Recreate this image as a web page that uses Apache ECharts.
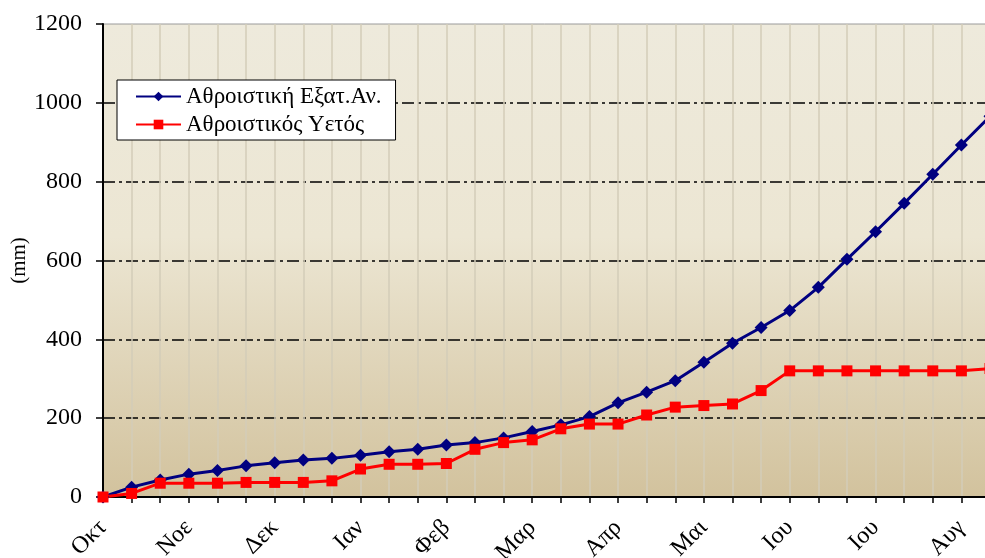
<!DOCTYPE html>
<html>
<head>
<meta charset="utf-8">
<script src="https://cdn.jsdelivr.net/npm/echarts@6/dist/echarts.min.js"></script>
<style>
    html, body { margin: 0; padding: 0; background: #fff; }
    #chart-box { width: 985px; height: 558px; }
</style>
</head>
<body>
<div id="chart-box"></div>
<script>
// δεκαήμερα (3 ανά μήνα), φαίνονται 32 σημεία
var categories = [
    'Οκτ', 'Οκτ', 'Οκτ', 'Νοε', 'Νοε', 'Νοε', 'Δεκ', 'Δεκ', 'Δεκ',
    'Ιαν', 'Ιαν', 'Ιαν', 'Φεβ', 'Φεβ', 'Φεβ', 'Μαρ', 'Μαρ', 'Μαρ',
    'Απρ', 'Απρ', 'Απρ', 'Μαι', 'Μαι', 'Μαι', 'Ιου', 'Ιου', 'Ιου',
    'Ιου', 'Ιου', 'Ιου', 'Αυγ', 'Αυγ'
];
// Αθροιστική Εξατμισοδιαπνοή
var evapData = [
    0, 25, 43, 58, 67, 79, 87, 94, 98, 106, 115,
    121, 132, 138, 150, 166, 183, 204, 239, 266, 295,
    342, 390, 430, 473, 532, 603, 673, 745, 819, 893, 966
];
// Αθροιστικός Υετός
var rainData = [
    0, 9, 35, 35, 35, 37, 37, 37, 41, 71, 83,
    83, 85, 121, 138, 145, 173, 185, 185, 208, 228,
    232, 236, 270, 320, 320, 320, 320, 320, 320, 320, 326
];
var yTicks = [0, 200, 400, 600, 800, 1000, 1200];

var fontName = 'Liberation Serif';

var chartDom = document.getElementById('chart-box');
var myChart = echarts.init(chartDom);
var option;

option = {
    animation: false,
    backgroundColor: '#ffffff',
    textStyle: { fontFamily: fontName },
    grid: {
        left: 103,
        top: 24,
        bottom: 61,
        right: -5,
        // το διάγραμμα κόβεται δεξιά όπως στο πρωτότυπο
        outerBoundsMode: 'none',
        containLabel: false,
        show: true,
        borderWidth: 1,
        borderColor: '#9a9a9a',
        // φόντο με διαβάθμιση (ανοιχτό πάνω, μπεζ κάτω)
        backgroundColor: {
            type: 'linear', x: 0, y: 0, x2: 0, y2: 1,
            colorStops: [
                { offset: 0, color: '#eeeadc' },
                { offset: 0.45, color: '#ece6d3' },
                { offset: 1, color: '#d2c29d' }
            ]
        }
    },
    legend: {
        left: 117,
        top: 80,
        orient: 'vertical',
        backgroundColor: '#ffffff',
        borderColor: '#000000',
        borderWidth: 1,
        borderRadius: 0,
        padding: [5, 14, 4, 18],
        itemGap: 5,
        itemWidth: 45,
        itemHeight: 12,
        textStyle: { fontFamily: fontName, fontSize: 23, color: '#000' },
        data: ['Αθροιστική Εξατ.Αν.', 'Αθροιστικός Υετός']
    },
    xAxis: {
        type: 'category',
        boundaryGap: false,
        data: categories,
        axisLine: { lineStyle: { color: '#000', width: 2 } },
        axisTick: { show: true, interval: 0, length: 6, lineStyle: { color: '#000', width: 1.5 } },
        axisLabel: {
            interval: 2,
            rotate: 45,
            margin: 27,
            fontFamily: fontName,
            fontSize: 24,
            color: '#000'
        },
        splitLine: {
            show: true,
            interval: 0,
            lineStyle: { color: '#d3ccb8', width: 1.5 }
        }
    },
    yAxis: {
        type: 'value',
        min: 0,
        max: 1200,
        interval: 200,
        name: '(mm)',
        nameLocation: 'middle',
        nameRotate: 90,
        nameGap: 73,
        nameMoveOverlap: false,
        nameTextStyle: { fontFamily: fontName, fontSize: 21, color: '#000' },
        axisLine: { show: true, lineStyle: { color: '#000', width: 2 } },
        axisTick: { show: true, length: 7, lineStyle: { color: '#000', width: 1.5 } },
        axisLabel: {
            margin: 21,
            fontFamily: fontName,
            fontSize: 24,
            color: '#000',
            formatter: function (v) {
                return yTicks.indexOf(v) >= 0 ? String(v) : '';
            }
        },
        splitLine: {
            show: true,
            lineStyle: {
                // 0 -> κρυφή, 200..1000 -> παύλα-τελεία, 1200 -> γκρι πάνω όριο
                color: ['transparent', '#000', '#000', '#000', '#000', '#000', 'transparent'],
                width: 1.5,
                type: [12, 4, 3, 4]
            }
        }
    },
    series: [
        {
            name: 'Αθροιστική Εξατ.Αν.',
            type: 'line',
            data: evapData,
            symbol: 'diamond',
            symbolSize: 13,
            showAllSymbol: true,
            color: '#000080',
            lineStyle: { color: '#000080', width: 3 },
            itemStyle: { color: '#000080' }
        },
        {
            name: 'Αθροιστικός Υετός',
            type: 'line',
            data: rainData,
            symbol: 'rect',
            symbolSize: 11,
            showAllSymbol: true,
            color: '#ff0000',
            lineStyle: { color: '#ff0000', width: 3 },
            itemStyle: { color: '#ff0000' }
        }
    ]
};

option && myChart.setOption(option);
</script>
</body>
</html>
